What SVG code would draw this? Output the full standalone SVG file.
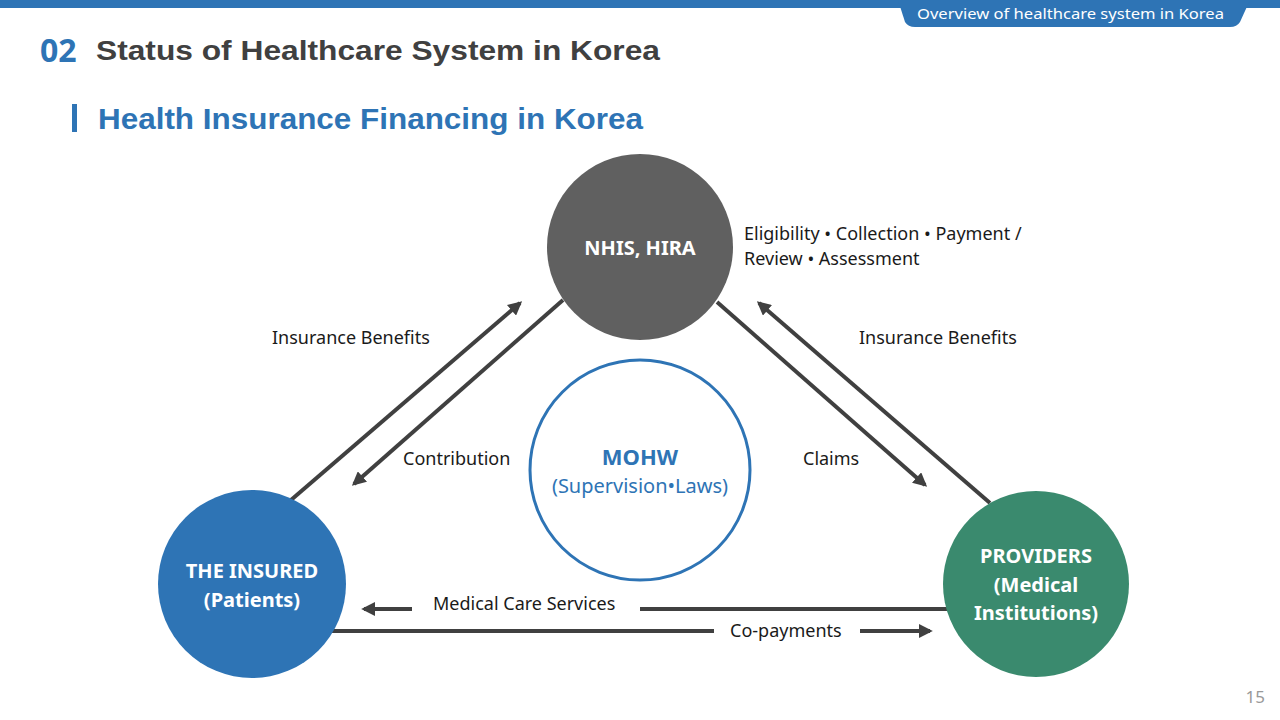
<svg xmlns="http://www.w3.org/2000/svg" width="1280" height="720" viewBox="0 0 1280 720">
<style>
.t{font-family:"Noto Sans","Open Sans",sans-serif}
.c{stroke:#404040;stroke-width:4;fill:none}
.lb{font-family:"Noto Sans","Open Sans",sans-serif;font-size:18px;fill:#1a1a1a}
.w{font-family:"Noto Sans","Open Sans",sans-serif;font-size:20px;font-weight:bold;fill:#fff;text-anchor:middle}
</style>
<defs>
<marker id="a" viewBox="0 0 10 10" refX="8" refY="5" markerWidth="3.5" markerHeight="3.5" orient="auto"><path d="M0,0 L10,5 L0,10 z" fill="#404040"/></marker>
</defs>
<rect width="1280" height="720" fill="#fff"/>
<rect x="0" y="0" width="1280" height="8" fill="#2e74b5"/>
<path d="M898,0 H1250 L1240,22 Q1237,27 1230,27 H915 Q908,27 905,22 Z" fill="#2e74b5"/>
<text x="917" y="19" class="t" font-size="15" fill="#fff" textLength="307" lengthAdjust="spacingAndGlyphs">Overview of healthcare system in Korea</text>
<text x="40" y="62" class="t" font-size="32" font-weight="bold" fill="#2e74b5">02</text>
<text x="96" y="60" font-family="Liberation Sans, Arial, sans-serif" font-size="28" font-weight="bold" fill="#404040" textLength="564" lengthAdjust="spacingAndGlyphs">Status of Healthcare System in Korea</text>
<rect x="72" y="104" width="5" height="28" fill="#2e74b5"/>
<text x="98" y="129" font-family="Liberation Sans, Arial, sans-serif" font-size="29" font-weight="bold" fill="#2e74b5" textLength="545" lengthAdjust="spacingAndGlyphs">Health Insurance Financing in Korea</text>
<g id="connectors">
<line class="c" x1="291" y1="500" x2="520" y2="303" marker-end="url(#a)"/>
<line class="c" x1="563" y1="300" x2="354" y2="484" marker-end="url(#a)"/>
<line class="c" x1="717" y1="302" x2="925" y2="485" marker-end="url(#a)"/>
<line class="c" x1="990" y1="503" x2="759" y2="303" marker-end="url(#a)"/>
<line class="c" x1="947" y1="609" x2="640" y2="609"/>
<line class="c" x1="412" y1="609" x2="364" y2="609" marker-end="url(#a)"/>
<line class="c" x1="332" y1="631" x2="714" y2="631"/>
<line class="c" x1="860" y1="631" x2="930" y2="631" marker-end="url(#a)"/>
</g>
<g id="nhis"><circle cx="640" cy="247" r="93" fill="#606060"/><text x="640" y="255" class="w">NHIS, HIRA</text></g>
<g id="insured"><circle cx="252" cy="584" r="94" fill="#2e74b5"/><text x="252" y="578" class="w">THE INSURED</text><text x="252" y="607" class="w">(Patients)</text></g>
<g id="providers"><circle cx="1036" cy="584" r="93" fill="#3a8a6e"/><text x="1036" y="563" class="w">PROVIDERS</text><text x="1036" y="592" class="w">(Medical</text><text x="1036" y="620" class="w">Institutions)</text></g>
<g id="mohw"><circle cx="640" cy="470" r="110" fill="#fff" stroke="#2e74b5" stroke-width="3"/><text x="640" y="465" class="t" font-size="22" font-weight="bold" fill="#2e74b5" text-anchor="middle">MOHW</text><text x="640" y="493" class="t" font-size="20" fill="#2e74b5" text-anchor="middle">(Supervision•Laws)</text></g>
<text x="744" y="240" class="lb">Eligibility • Collection • Payment /</text>
<text x="744" y="265" class="lb">Review • Assessment</text>
<text x="272" y="344" class="lb">Insurance Benefits</text>
<text x="859" y="344" class="lb">Insurance Benefits</text>
<text x="403" y="465" class="lb">Contribution</text>
<text x="803" y="465" class="lb">Claims</text>
<text x="433" y="610" class="lb">Medical Care Services</text>
<text x="730" y="637" class="lb">Co-payments</text>
<text x="1265" y="703" class="t" font-size="17" fill="#999" text-anchor="end">15</text>
</svg>
